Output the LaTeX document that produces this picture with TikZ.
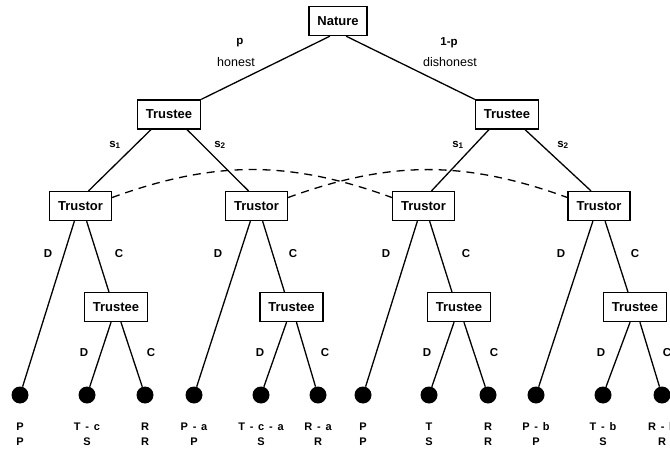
\documentclass[tikz,border=0pt]{standalone}
\usepackage{fontspec}
\setmainfont{Liberation Sans}
\usetikzlibrary{positioning}

\newcommand{\mn}{\hspace{4.8pt}-\hspace{4.8pt}}

\tikzset{
  box/.style={draw, line width=1.3pt, fill=white, inner xsep=8.5pt, minimum height=29pt,
    font=\fontsize{13}{15}\selectfont\bfseries},
  leaf/.style={circle, fill=black, inner sep=0pt, minimum size=17pt},
  lbl/.style={inner sep=0pt, font=\fontsize{11.5}{13}\selectfont\bfseries},
  prob/.style={inner sep=0pt, font=\fontsize{12.5}{14}\selectfont},
  pay/.style={align=center, inner sep=0pt, font=\fontsize{11}{15}\selectfont\bfseries},
  edge/.style={line width=1.3pt},
  info/.style={line width=1.3pt, dash pattern=on 8pt off 6pt}
}

\begin{document}
\begin{tikzpicture}[x=1pt, y=1pt]
  \useasboundingbox (0,0) rectangle (670,-452);

  % decision nodes
  \node[box] (nat) at (338,-21) {Nature};
  \node[box] (te1) at (169,-114.5) {Trustee};
  \node[box] (te2) at (507,-114.5) {Trustee};
  \node[box] (tr1) at (80.5,-206) {Trustor};
  \node[box] (tr2) at (256.5,-206) {Trustor};
  \node[box] (tr3) at (423.5,-206) {Trustor};
  \node[box] (tr4) at (599,-206) {Trustor};
  \node[box] (tb1) at (116,-307) {Trustee};
  \node[box] (tb2) at (291.5,-307) {Trustee};
  \node[box] (tb3) at (459,-307) {Trustee};
  \node[box] (tb4) at (635,-307) {Trustee};

  % end points and payoffs
  \foreach \i/\x/\t in {1/20/P\\P, 2/87/T\mn c\\S, 3/145/R\\R,
      4/194/P\mn a\\P, 5/261/T\mn c\mn a\\S, 6/318/R\mn a\\R,
      7/363/P\\P, 8/429/T\\S, 9/488/R\\R,
      10/536/P\mn b\\P, 11/603/T\mn b\\S, 12/662/R\mn b\\R} {
    \node[leaf] (l\i) at (\x,-395) {};
    \node[pay, below=19pt of l\i] (p\i) {\t};
  }

  % nature moves
  \draw[edge] (nat.-118) -- (te1.north east);
  \draw[edge] (nat.-62) -- (te2.north west);
  \node[lbl] (np) at (240,-43) {p};
  \node[prob] (nh) at (236,-62) {honest};
  \node[lbl] (nq) at (449,-43) {1-p};
  \node[prob] (nd) at (450,-62) {dishonest};

  % trustee signals
  \draw[edge] (te1.-140) -- (tr1.62);
  \draw[edge] (te1.-40) -- (tr2.118);
  \draw[edge] (te2.-140) -- (tr3.62);
  \draw[edge] (te2.-40) -- (tr4.118);
  \node[lbl] (s11) at (115,-145) {s\textsubscript{1}};
  \node[lbl] (s12) at (220,-145) {s\textsubscript{2}};
  \node[lbl] (s21) at (458,-145) {s\textsubscript{1}};
  \node[lbl] (s22) at (563,-145) {s\textsubscript{2}};

  % information sets
  \draw[info] (tr1.15) to[out=20, in=160] (tr3.165);
  \draw[info] (tr2.15) to[out=20, in=160] (tr4.165);

  % trustor moves
  \draw[edge] (tr1.-112) -- (l1);
  \draw[edge] (tr1.-68) -- (tb1.115);
  \draw[edge] (tr2.-112) -- (l4);
  \draw[edge] (tr2.-68) -- (tb2.115);
  \draw[edge] (tr3.-112) -- (l7);
  \draw[edge] (tr3.-68) -- (tb3.115);
  \draw[edge] (tr4.-112) -- (l10);
  \draw[edge] (tr4.-68) -- (tb4.115);
  \node[lbl] (d1) at (48,-254) {D};
  \node[lbl] (c1) at (119,-254) {C};
  \node[lbl] (d2) at (218,-254) {D};
  \node[lbl] (c2) at (293,-254) {C};
  \node[lbl] (d3) at (386,-254) {D};
  \node[lbl] (c3) at (466,-254) {C};
  \node[lbl] (d4) at (561,-254) {D};
  \node[lbl] (c4) at (635,-254) {C};

  % trustee moves
  \draw[edge] (tb1.-108) -- (l2);
  \draw[edge] (tb1.-72) -- (l3);
  \draw[edge] (tb2.-108) -- (l5);
  \draw[edge] (tb2.-72) -- (l6);
  \draw[edge] (tb3.-108) -- (l8);
  \draw[edge] (tb3.-72) -- (l9);
  \draw[edge] (tb4.-108) -- (l11);
  \draw[edge] (tb4.-72) -- (l12);
  \node[lbl] (e1) at (84,-353) {D};
  \node[lbl] (f1) at (151,-353) {C};
  \node[lbl] (e2) at (260,-353) {D};
  \node[lbl] (f2) at (325,-353) {C};
  \node[lbl] (e3) at (427,-353) {D};
  \node[lbl] (f3) at (494,-353) {C};
  \node[lbl] (e4) at (601,-353) {D};
  \node[lbl] (f4) at (667,-353) {C};
\end{tikzpicture}
\end{document}
